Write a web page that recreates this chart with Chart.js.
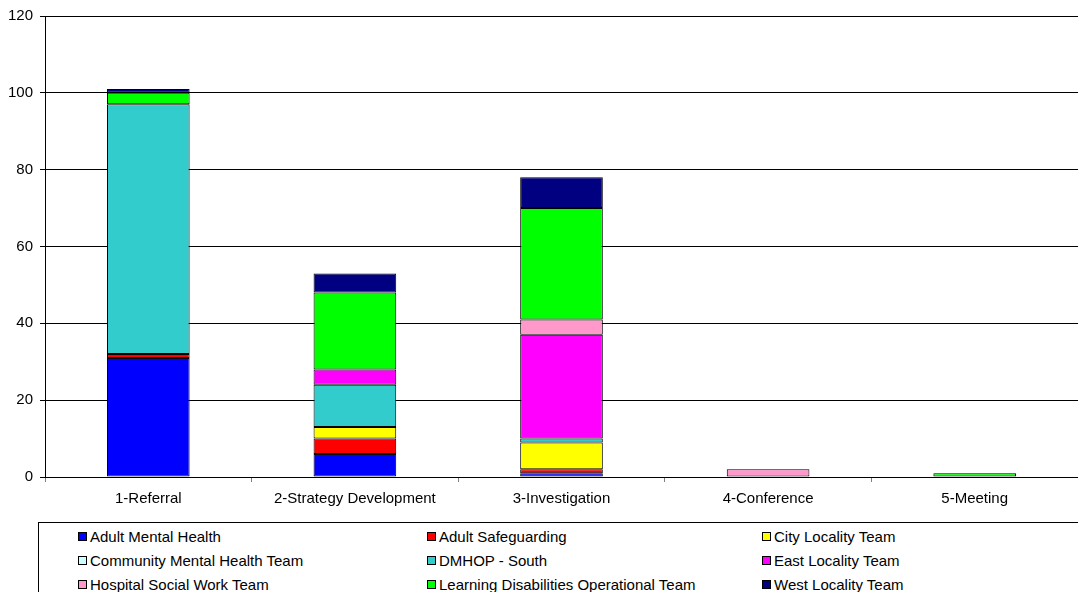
<!DOCTYPE html>
<html>
<head>
<meta charset="utf-8">
<script src="https://cdn.jsdelivr.net/npm/chart.js@4"></script>
<style>
  body { margin: 0; background: #fff; font-family: "Liberation Sans", Arial, sans-serif; overflow: hidden; }
  #wrap { position: absolute; left: 0; top: 0; width: 1078px; height: 520px; }
  #legend { position: absolute; left: 38px; top: 522px; width: 1060px; height: 80px; border: 1px solid #000; box-sizing: border-box; }
  .item { position: absolute; font-size: 15px; color: #000; white-space: nowrap; line-height: 16px; }
  .item i { display: inline-block; width: 7px; height: 7px; border: 1px solid #000; margin-right: 3px; vertical-align: 1px; }
</style>
</head>
<body>
<div id="wrap"><canvas id="chart"></canvas></div>
<div id="legend"></div>
<script>
// categories
const categories = ['1-Referral', '2-Strategy Development', '3-Investigation', '4-Conference', '5-Meeting'];

// series values (bottom to top)
const adultMentalHealth = [31, 6, 1, 0, 0];
const adultSafeguarding = [1, 4, 1, 0, 0];
const cityLocality = [0, 3, 7, 0, 0];
const communityMentalHealth = [0, 0, 0, 0, 0];
const dmhopSouth = [65, 11, 1, 0, 0];
const eastLocality = [0, 4, 27, 0, 0];
const hospitalSocialWork = [0, 0, 4, 2, 0];
const learningDisabilities = [3, 20, 29, 0, 1];
const westLocality = [1, 5, 8, 0, 0];

const seriesNames = ['Adult Mental Health', 'Adult Safeguarding', 'City Locality Team', 'Community Mental Health Team',
  'DMHOP - South', 'East Locality Team', 'Hospital Social Work Team', 'Learning Disabilities Operational Team', 'West Locality Team'];
const seriesData = [adultMentalHealth, adultSafeguarding, cityLocality, communityMentalHealth,
  dmhopSouth, eastLocality, hospitalSocialWork, learningDisabilities, westLocality];
const seriesColors = ['#0000FF', '#FF0000', '#FFFF00', '#CCFFFF', '#33CCCC', '#FF00FF', '#FF99CC', '#00FF00', '#000080'];

// y ticks
const yMin = 0, yMax = 120, yStep = 20;

const datasets = seriesNames.map((name, i) => ({
  label: name,
  data: seriesData[i].map(v => v === 0 ? null : v),
  backgroundColor: seriesColors[i],
  borderColor: '#000',
  borderWidth: 1,
  borderSkipped: false,
  barPercentage: 0.4,
  categoryPercentage: 1.0
}));

Chart.defaults.font.family = '"Liberation Sans", Arial, sans-serif';
Chart.defaults.font.size = 15;
Chart.defaults.color = '#000';

new Chart(document.getElementById('chart'), {
  type: 'bar',
  data: { labels: categories, datasets: datasets },
  options: {
    responsive: true,
    maintainAspectRatio: false,
    animation: false,
    layout: { padding: { top: 15, right: 0, left: 0, bottom: 0 } },
    plugins: { legend: { display: false }, tooltip: { enabled: false } },
    scales: {
      x: {
        stacked: true,
        grid: { drawOnChartArea: false, offset: true, tickLength: 5, color: '#808080' },
        border: { color: '#000' },
        ticks: { padding: 8, maxRotation: 0 },
        afterFit: s => { s.height = 43; }
      },
      y: {
        stacked: true,
        min: yMin, max: yMax,
        grid: { color: '#000', tickLength: 5 },
        border: { color: '#000' },
        ticks: { stepSize: yStep, padding: 7 },
        afterFit: s => { s.width = 45; }
      }
    }
  }
});

// legend, row by row, three columns
const legend = document.getElementById('legend');
const colX = [39, 388, 723];
const rowY = [6, 30, 54];
seriesNames.forEach((name, i) => {
  const d = document.createElement('div');
  d.className = 'item';
  d.style.left = colX[i % 3] + 'px';
  d.style.top = rowY[Math.floor(i / 3)] + 'px';
  d.innerHTML = '<i style="background:' + seriesColors[i] + '"></i>' + name;
  legend.appendChild(d);
});
</script>
</body>
</html>
